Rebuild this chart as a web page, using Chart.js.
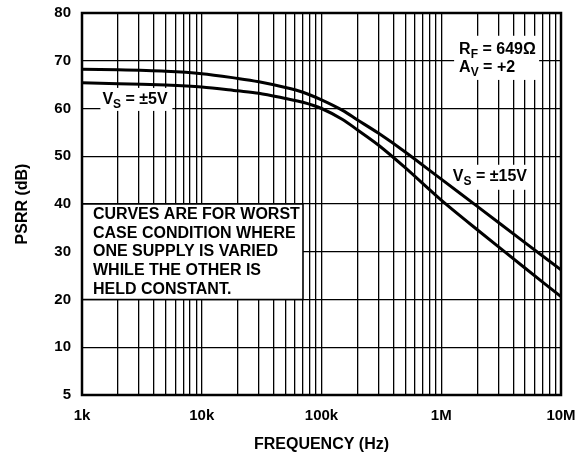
<!DOCTYPE html>
<html>
<head>
<meta charset="utf-8">
<script src="https://cdn.jsdelivr.net/npm/chart.js@4/dist/chart.umd.min.js"></script>
<style>
  body { margin: 0; background: #fff; }
  #wrap { width: 579px; height: 456px; }
</style>
</head>
<body>
<div id="wrap"><canvas id="chart" width="579" height="456"></canvas></div>
<script>
// Datos
var decades = [1e3, 1e4, 1e5, 1e6, 1e7];
var xTickLabels = ['1k', '10k', '100k', '1M', '10M'];
var yTickValues = [0, 10, 20, 30, 40, 50, 60, 70, 80];
var yTickLabels = ['5', '10', '20', '30', '40', '50', '60', '70', '80'];

var freqHz = [1e3, 2e3, 5e3, 1e4, 2e4, 3e4, 5e4, 7e4, 1e5, 1.5e5, 2e5, 3e5, 5e5, 1e6, 2e6, 5e6, 1e7];
var psrr15 = [68.2, 68.1, 67.8, 67.3, 66.3, 65.6, 64.4, 63.4, 61.8, 59.6, 57.6, 54.8, 50.9, 45.2, 39.5, 31.9, 26.2];
var psrr5 = [65.4, 65.2, 64.9, 64.5, 63.7, 63.2, 62.1, 61.3, 60.0, 57.7, 55.5, 52.3, 47.6, 40.8, 34.6, 26.6, 20.6];

var noteLines = ['CURVES ARE FOR WORST', 'CASE CONDITION WHERE', 'ONE SUPPLY IS VARIED', 'WHILE THE OTHER IS', 'HELD CONSTANT.'];

var FONT = 'bold 16px "Liberation Sans", Arial, sans-serif';
var SUBFONT = 'bold 12px "Liberation Sans", Arial, sans-serif';

function toPoints(ys) {
    return freqHz.map(function (f, i) { return { x: f, y: ys[i] }; });
}

// Texto con subindices: parts = [[texto, esSub], ...]
function drawParts(ctx, x, y, parts) {
    ctx.textBaseline = 'middle';
    ctx.textAlign = 'left';
    parts.forEach(function (p) {
        ctx.font = p[1] ? SUBFONT : FONT;
        ctx.fillText(p[0], x, p[1] ? y + 5 : y);
        x += ctx.measureText(p[0]).width;
    });
}

function whiteRect(ctx, x0, y0, x1, y1) {
    ctx.fillStyle = '#fff';
    ctx.fillRect(x0, y0, x1 - x0, y1 - y0);
}

var notesPlugin = {
    id: 'notes',
    beforeDatasetsDraw: function (chart) {
        var ctx = chart.ctx, xs = chart.scales.x, ys = chart.scales.y;
        ctx.save();

        // recuadro de la nota
        var bx0 = xs.getPixelForValue(1e3), bx1 = xs.getPixelForValue(7e4);
        var by0 = ys.getPixelForValue(40), by1 = ys.getPixelForValue(20);
        whiteRect(ctx, bx0, by0, bx1, by1);
        ctx.strokeStyle = '#000';
        ctx.lineWidth = 1.5;
        ctx.strokeRect(bx0, by0, bx1 - bx0, by1 - by0);
        ctx.fillStyle = '#000';
        ctx.font = FONT;
        ctx.textBaseline = 'middle';
        noteLines.forEach(function (t, i) {
            ctx.fillText(t, bx0 + 11, by0 + 10.5 + i * 18.7);
        });

        // V_S = ±5V
        var x5 = xs.getPixelForValue(1.48e3), y5 = ys.getPixelForValue(61.8);
        whiteRect(ctx, x5 - 2, y5 - 12, x5 + 70, y5 + 11);
        ctx.fillStyle = '#000';
        drawParts(ctx, x5, y5, [['V', 0], ['S', 1], [' = \u00b15V', 0]]);

        // R_F / A_V
        var xr = xs.getPixelForValue(1.41e6);
        var yr1 = ys.getPixelForValue(72.3), yr2 = ys.getPixelForValue(68.5);
        whiteRect(ctx, xr - 5, yr1 - 14, xr + 80, yr2 + 12);
        ctx.fillStyle = '#000';
        drawParts(ctx, xr, yr1, [['R', 0], ['F', 1], [' = 649\u03a9', 0]]);
        drawParts(ctx, xr, yr2, [['A', 0], ['V', 1], [' = +2', 0]]);

        // V_S = ±15V
        var x15 = xs.getPixelForValue(1.25e6), y15 = ys.getPixelForValue(45.7);
        whiteRect(ctx, x15 - 4, y15 - 12, x15 + 78, y15 + 13);
        ctx.fillStyle = '#000';
        drawParts(ctx, x15, y15, [['V', 0], ['S', 1], [' = \u00b115V', 0]]);

        ctx.restore();
    },
    afterDraw: function (chart) {
        var a = chart.chartArea, ctx = chart.ctx;
        ctx.save();
        ctx.strokeStyle = '#000';
        ctx.lineWidth = 2.5;
        ctx.strokeRect(a.left, a.top, a.right - a.left, a.bottom - a.top);
        ctx.restore();
    }
};

Chart.defaults.font.family = '"Liberation Sans", Arial, sans-serif';
Chart.defaults.font.weight = 'bold';
Chart.defaults.font.size = 15;
Chart.defaults.color = '#000';

new Chart(document.getElementById('chart'), {
    type: 'line',
    data: {
        datasets: [
            { label: 'VS = ±15V', data: toPoints(psrr15) },
            { label: 'VS = ±5V', data: toPoints(psrr5) }
        ]
    },
    options: {
        responsive: false,
        animation: false,
        events: [],
        layout: { padding: { left: 0, right: 18, top: 13, bottom: 0 } },
        elements: {
            line: { borderColor: '#000', borderWidth: 3, tension: 0.3, fill: false },
            point: { radius: 0 }
        },
        plugins: { legend: { display: false }, tooltip: { enabled: false } },
        scales: {
            x: {
                type: 'logarithmic',
                min: 1e3,
                max: 1e7,
                afterBuildTicks: function (scale) {
                    var t = [];
                    decades.forEach(function (d, i) {
                        var n = i < decades.length - 1 ? 9 : 1;
                        for (var k = 1; k <= n; k++) t.push({ value: d * k });
                    });
                    scale.ticks = t;
                },
                afterFit: function (scale) {
                    scale.height = 61;
                    scale.paddingLeft = 0;
                    scale.paddingRight = 0;
                },
                ticks: {
                    autoSkip: false,
                    maxRotation: 0,
                    padding: 12,
                    callback: function (v) {
                        var i = decades.indexOf(v);
                        return i >= 0 ? xTickLabels[i] : '';
                    }
                },
                grid: { color: '#000', lineWidth: 1.3, drawTicks: false },
                border: { display: false },
                title: { display: true, text: 'FREQUENCY (Hz)', font: { size: 16 }, padding: { top: 0, bottom: 2 } }
            },
            y: {
                min: 0,
                max: 80,
                afterBuildTicks: function (scale) {
                    scale.ticks = yTickValues.map(function (v) { return { value: v }; });
                },
                afterFit: function (scale) {
                    scale.width = 82;
                    scale.paddingTop = 0;
                    scale.paddingBottom = 0;
                },
                ticks: {
                    padding: 11,
                    callback: function (v) {
                        var i = yTickValues.indexOf(v);
                        return i >= 0 ? yTickLabels[i] : '';
                    }
                },
                grid: { color: '#000', lineWidth: 1.3, drawTicks: false },
                border: { display: false },
                title: { display: true, text: 'PSRR (dB)', font: { size: 16 }, padding: { top: 13, bottom: 0 } }
            }
        }
    },
    plugins: [notesPlugin]
});
</script>
</body>
</html>
